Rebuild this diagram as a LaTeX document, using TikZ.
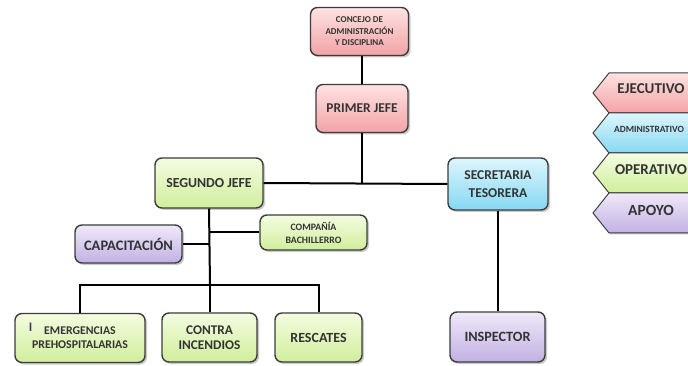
\documentclass[tikz,border=0pt]{standalone}
\usepackage{fontspec}
\setmainfont{Carlito}[BoldFont={Carlito Bold}]
\usetikzlibrary{shadows}
\definecolor{txt}{HTML}{333333}
\definecolor{edge}{HTML}{3C3C3C}
\definecolor{pinkT}{HTML}{FFE2E2}
\definecolor{pinkB}{HTML}{F2A3A6}
\definecolor{blueT}{HTML}{DDF6FD}
\definecolor{blueB}{HTML}{86D8F2}
\definecolor{greenT}{HTML}{F4FCE0}
\definecolor{greenB}{HTML}{D0EE9C}
\definecolor{purpT}{HTML}{EFE9F9}
\definecolor{purpB}{HTML}{C1B1E3}
\definecolor{markI}{HTML}{4A3A6A}
\tikzset{
  x=1pt, y=-1pt,
  box/.style={draw=edge, line width=1.4pt, rounded corners=7pt, align=center,
    font=\bfseries, text=txt, inner sep=2pt,
    drop shadow={shadow xshift=2pt, shadow yshift=-2pt, opacity=0.35, fill=black!60}},
  pinkbox/.style={box, top color=pinkT, bottom color=pinkB},
  bluebox/.style={box, top color=blueT, bottom color=blueB},
  greenbox/.style={box, top color=greenT, bottom color=greenB},
  purpbox/.style={box, top color=purpT, bottom color=purpB},
  link/.style={draw=black, line width=2pt},
  legshape/.style={draw=edge, line width=1pt,
    drop shadow={shadow xshift=1.5pt, shadow yshift=-1.5pt, opacity=0.35, fill=black!60}},
  legtext/.style={font=\bfseries, text=txt, inner sep=0pt},
}
\begin{document}
\begin{tikzpicture}
\useasboundingbox (0,0) rectangle (688,366);

% boxes
\node[pinkbox, minimum width=98pt, minimum height=48pt, font=\bfseries\fontsize{9}{11.5}\selectfont] (concejo) at (359.5,31.5) {CONCEJO DE\\ADMINISTRACIÓN\\Y DISCIPLINA};
\node[pinkbox, minimum width=92pt, minimum height=48pt, font=\bfseries\fontsize{13.5}{15}\selectfont] (primer) at (362,108.5) {PRIMER JEFE};
\node[greenbox, minimum width=108pt, minimum height=50pt, font=\bfseries\fontsize{13.8}{15}\selectfont] (segundo) at (209,183) {SEGUNDO JEFE};
\node[bluebox, minimum width=100pt, minimum height=52pt, font=\bfseries\fontsize{13.5}{18}\selectfont] (secretaria) at (498,184) {SECRETARIA\\TESORERA};
\node[greenbox, minimum width=107pt, minimum height=35pt, font=\bfseries\fontsize{9.8}{13}\selectfont] (compania) at (313.5,232.5) {COMPAÑÍA\\BACHILLERRO};
\node[purpbox, minimum width=107pt, minimum height=38pt, font=\bfseries\fontsize{14.5}{16}\selectfont] (capacitacion) at (128.5,244) {CAPACITACIÓN};
\node[greenbox, minimum width=130pt, minimum height=49pt, font=\bfseries\fontsize{11.8}{14}\selectfont] (emergencias) at (80,338) {EMERGENCIAS\\PREHOSPITALARIAS};
\node[greenbox, minimum width=95pt, minimum height=49pt, font=\bfseries\fontsize{13.3}{15}\selectfont] (contra) at (209.5,337.5) {CONTRA\\INCENDIOS};
\node[greenbox, minimum width=87pt, minimum height=49pt, font=\bfseries\fontsize{14}{15}\selectfont] (rescates) at (318.5,337.5) {RESCATES};
\node[purpbox, minimum width=95pt, minimum height=50pt, font=\bfseries\fontsize{14.2}{15}\selectfont] (inspector) at (497.5,337) {INSPECTOR};
\node[text=markI, font=\bfseries\fontsize{13}{13}\selectfont, inner sep=0pt] (mark) at (30.5,327) {I};

% connectors
\draw[link] (primer.north) -- (primer.north |- concejo.south);
\draw[link] (segundo.east) -- (secretaria.west);
\draw[link] (primer.south) -- (primer.south |- segundo.east);
\draw[link] (secretaria.south) -- (secretaria.south |- inspector.north);
\coordinate (bus) at (210,285);
\draw[link] (segundo.south) -- (bus);
\draw[link] (compania.west) -- (compania.west -| bus);
\draw[link] (capacitacion.east) -- (capacitacion.east -| bus);
\draw[link] (emergencias.north) |- (bus) -| (rescates.north);
\draw[link] (bus) -- (contra.north |- bus) -- (contra.north);

% legend
\begin{scope}
\clip (560,60) rectangle (688,250);
\foreach \t/\m/\b/\cT/\cB in {73/93/113/pinkT/pinkB, 113/133/153/blueT/blueB, 153/173/193/greenT/greenB, 193/213/233/purpT/purpB}{
  \draw[legshape, top color=\cT, bottom color=\cB] (700,\t) -- (609,\t) -- (593,\m) -- (609,\b) -- (700,\b) -- cycle;
}
\end{scope}
\node[legtext, font=\bfseries\fontsize{15}{15}\selectfont] (ejecutivo) at (651,89) {EJECUTIVO};
\node[legtext, font=\bfseries\fontsize{9.5}{9.5}\selectfont] (administrativo) at (649,129) {ADMINISTRATIVO};
\node[legtext, font=\bfseries\fontsize{15}{15}\selectfont] (operativo) at (651,170) {OPERATIVO};
\node[legtext, font=\bfseries\fontsize{15.5}{15.5}\selectfont] (apoyo) at (651,210) {APOYO};
\end{tikzpicture}
\end{document}
